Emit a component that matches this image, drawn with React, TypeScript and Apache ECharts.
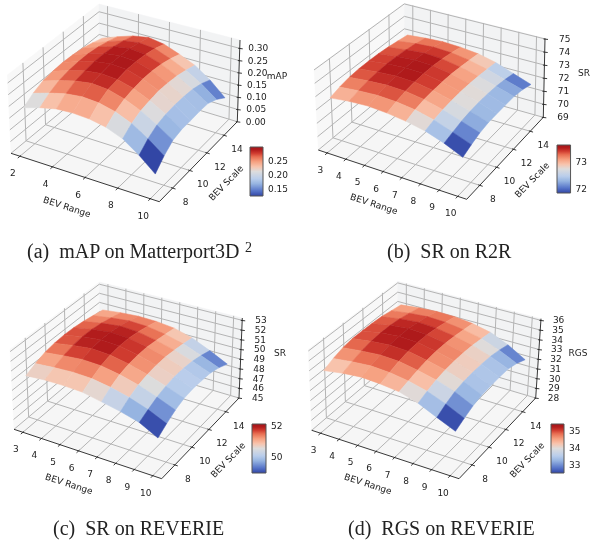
import React, { useEffect, useRef } from "react";
import * as echarts from "echarts";

// ---------- data ----------
const gridXA = [2, 3, 4, 5, 6, 7, 8, 9, 10];
const gridXB = [3, 4, 5, 6, 7, 8, 9, 10];
const gridY = [7, 8, 9, 10, 11, 12, 13, 14, 15];

const rangeTicksA = [2, 4, 6, 8, 10];
const rangeTicksB = [3, 4, 5, 6, 7, 8, 9, 10];
const scaleTicks = [8, 10, 12, 14];

const zTicksA = [0, 0.05, 0.1, 0.15, 0.2, 0.25, 0.3];
const zTicksB = [69, 70, 71, 72, 73, 74, 75];
const zTicksC = [45, 46, 47, 48, 49, 50, 51, 52, 53];
const zTicksD = [28, 29, 30, 31, 32, 33, 34, 35, 36];

const barTicksA = [0.15, 0.2, 0.25];
const barTicksB = [72, 73];
const barTicksC = [50, 52];
const barTicksD = [33, 34, 35];

const captions = ["(a)  mAP on Matterport3D", "(b)  SR on R2R", "(c)  SR on REVERIE", "(d)  RGS on REVERIE"];

const mapA = [
  [0.187, 0.208, 0.223, 0.226, 0.221, 0.207, 0.18, 0.134, 0.079],
  [0.215, 0.236, 0.253, 0.26, 0.254, 0.237, 0.208, 0.166, 0.117],
  [0.234, 0.255, 0.273, 0.282, 0.275, 0.255, 0.226, 0.187, 0.145],
  [0.241, 0.264, 0.282, 0.289, 0.283, 0.264, 0.233, 0.196, 0.154],
  [0.245, 0.268, 0.287, 0.296, 0.29, 0.269, 0.239, 0.199, 0.154],
  [0.243, 0.268, 0.287, 0.296, 0.29, 0.268, 0.236, 0.198, 0.156],
  [0.238, 0.262, 0.283, 0.292, 0.285, 0.262, 0.231, 0.194, 0.154],
  [0.227, 0.252, 0.273, 0.282, 0.275, 0.25, 0.22, 0.182, 0.136],
  [0.213, 0.238, 0.259, 0.27, 0.259, 0.234, 0.206, 0.163, 0.107],
];
const srR2R = [
  [72.81, 72.99, 73.07, 72.98, 72.8, 72.52, 72.06, 71.46],
  [73.06, 73.21, 73.29, 73.23, 73.05, 72.72, 72.24, 71.75],
  [73.23, 73.38, 73.47, 73.42, 73.22, 72.86, 72.42, 71.98],
  [73.31, 73.47, 73.57, 73.51, 73.28, 72.94, 72.53, 72.11],
  [73.32, 73.51, 73.61, 73.56, 73.31, 72.97, 72.57, 72.12],
  [73.31, 73.49, 73.6, 73.55, 73.3, 72.95, 72.56, 72.13],
  [73.24, 73.42, 73.54, 73.47, 73.22, 72.89, 72.51, 72.11],
  [73.13, 73.3, 73.4, 73.33, 73.12, 72.79, 72.37, 71.97],
  [73.01, 73.13, 73.21, 73.14, 72.99, 72.67, 72.18, 71.71],
];
const srReverie = [
  [50.39, 50.55, 50.58, 50.51, 50.13, 49.75, 49.25, 48.29],
  [50.86, 51.03, 51.15, 51.08, 50.77, 50.32, 49.69, 48.86],
  [51.21, 51.46, 51.65, 51.58, 51.24, 50.75, 50.09, 49.36],
  [51.39, 51.73, 51.96, 51.86, 51.48, 50.96, 50.34, 49.67],
  [51.46, 51.84, 52.07, 51.97, 51.59, 51.07, 50.45, 49.75],
  [51.43, 51.81, 52.03, 51.94, 51.56, 51.05, 50.43, 49.7],
  [51.29, 51.64, 51.86, 51.77, 51.4, 50.91, 50.29, 49.59],
  [51.1, 51.38, 51.58, 51.5, 51.19, 50.7, 50.01, 49.25],
  [50.88, 51.1, 51.23, 51.18, 50.97, 50.45, 49.63, 48.74],
];
const rgsReverie = [
  [33.89, 34.21, 34.4, 34.31, 34.11, 33.55, 32.72, 31.93],
  [34.33, 34.59, 34.75, 34.66, 34.38, 33.92, 33.22, 32.37],
  [34.66, 34.89, 35.06, 34.97, 34.63, 34.22, 33.6, 32.75],
  [34.81, 35.08, 35.27, 35.18, 34.82, 34.4, 33.78, 32.97],
  [34.81, 35.16, 35.36, 35.26, 34.91, 34.47, 33.84, 33.03],
  [34.79, 35.14, 35.34, 35.23, 34.89, 34.46, 33.83, 33.04],
  [34.71, 35.02, 35.19, 35.1, 34.79, 34.37, 33.76, 33.0],
  [34.53, 34.79, 34.95, 34.88, 34.62, 34.21, 33.54, 32.69],
  [34.33, 34.53, 34.66, 34.62, 34.41, 34.0, 33.22, 32.19],
];

// ---------- colour scale as it appears in the picture ----------
const coolwarm: [number, number, number, number][] = [
  [0, 50, 70, 165],
  [0.1, 85, 115, 200],
  [0.25, 150, 180, 225],
  [0.35, 185, 205, 235],
  [0.5, 221, 220, 220],
  [0.6, 248, 195, 172],
  [0.7, 246, 160, 128],
  [0.8, 232, 110, 82],
  [0.87, 208, 60, 48],
  [0.94, 178, 28, 28],
  [1, 165, 20, 25],
];
const colorAt = (t: number) => {
  const k = Math.max(0, Math.min(1, t));
  for (let i = 1; i < coolwarm.length; i++) {
    if (k <= coolwarm[i][0]) {
      const a = coolwarm[i - 1];
      const b = coolwarm[i];
      const f = (k - a[0]) / (b[0] - a[0]);
      return `rgb(${[1, 2, 3].map((n) => Math.round(a[n] + (b[n] - a[n]) * f)).join(",")})`;
    }
  }
  return "rgb(165,20,25)";
};

// ---------- panel layout ----------
type Pt = [number, number];
interface Panel {
  xs: number[]; ys: number[]; zs: number[][];
  xTicks: number[]; zTicks: number[]; barTicks: number[];
  zDigits: number; barDigits: number;
  xLim: Pt; yLim: Pt; zLim: Pt; bar: Pt;
  floor: [Pt, Pt, Pt, Pt]; top: [Pt, Pt, Pt, Pt];
  zLabelDx: number; zName: string;
  zNamePos: Pt; xNamePos: Pt; yNamePos: Pt;
  barBox: [number, number, number, number];
  caption: string; captionPos: Pt;
}
const panels: Panel[] = [
  {
    xs: gridXA, ys: gridY, zs: mapA, xTicks: rangeTicksA, zTicks: zTicksA, barTicks: barTicksA,
    zDigits: 2, barDigits: 2, xLim: [1.45, 10.55], yLim: [6.45, 15.55], zLim: [0, 0.334], bar: [0.124, 0.299],
    floor: [[11, 153.3], [159.3, 201.7], [237.3, 121.7], [99.5, 80]],
    top: [[7.3, 75], [160.5, 117], [240, 40], [99, 4]],
    zLabelDx: 8.5, zName: "mAP", zNamePos: [277, 76], xNamePos: [67, 207], yNamePos: [226, 183],
    barBox: [250, 147, 13, 49], caption: captions[0], captionPos: [27, 252],
  },
  {
    xs: gridXB, ys: gridY, zs: srR2R, xTicks: rangeTicksB, zTicks: zTicksB, barTicks: barTicksB,
    zDigits: 0, barDigits: 0, xLim: [2.52, 10.48], yLim: [6.45, 15.55], zLim: [69, 75.05], bar: [71.84, 73.65],
    floor: [[318.3, 150], [466.7, 199.3], [543.3, 117.3], [404.5, 78.5]],
    top: [[314, 69.3], [468, 115], [545, 38.3], [404.3, 3.3]],
    zLabelDx: 14, zName: "SR", zNamePos: [584, 73], xNamePos: [374, 204], yNamePos: [532, 180],
    barBox: [557, 145, 14, 48], caption: captions[1], captionPos: [387, 252],
  },
  {
    xs: gridXB, ys: gridY, zs: srReverie, xTicks: rangeTicksB, zTicks: zTicksC, barTicks: barTicksC,
    zDigits: 0, barDigits: 0, xLim: [2.52, 10.48], yLim: [6.45, 15.55], zLim: [45, 53.24], bar: [48.96, 52.13],
    floor: [[14, 429.3], [161.7, 478.7], [239, 398], [100, 357]],
    top: [[10, 349.3], [163, 396], [242.3, 318], [99.3, 282]],
    zLabelDx: 13, zName: "SR", zNamePos: [280, 353], xNamePos: [69, 484], yNamePos: [228, 460],
    barBox: [252, 424, 14, 49], caption: captions[2], captionPos: [53, 529],
  },
  {
    xs: gridXB, ys: gridY, zs: rgsReverie, xTicks: rangeTicksB, zTicks: zTicksD, barTicks: barTicksD,
    zDigits: 0, barDigits: 0, xLim: [2.52, 10.48], yLim: [6.45, 15.55], zLim: [28, 36.17], bar: [32.5, 35.42],
    floor: [[311.7, 430.3], [459, 478.7], [535.7, 398], [398, 357]],
    top: [[308.3, 349.3], [460.5, 396], [541, 318.7], [397.7, 281.3]],
    zLabelDx: 12, zName: "RGS", zNamePos: [578, 353], xNamePos: [368, 484], yNamePos: [527, 460],
    barBox: [551, 424, 13, 49], caption: captions[3], captionPos: [348, 529],
  },
];

const bilinear = (q: [Pt, Pt, Pt, Pt], u: number, v: number): Pt => {
  const a = (1 - u) * (1 - v), b = u * (1 - v), c = u * v, d = (1 - u) * v;
  return [
    a * q[0][0] + b * q[1][0] + c * q[2][0] + d * q[3][0],
    a * q[0][1] + b * q[1][1] + c * q[2][1] + d * q[3][1],
  ];
};
const uvw = (p: Panel, u: number, v: number, w: number): Pt => {
  const f = bilinear(p.floor, u, v);
  const t = bilinear(p.top, u, v);
  return [f[0] + (t[0] - f[0]) * w, f[1] + (t[1] - f[1]) * w];
};
const uOf = (p: Panel, x: number) => (x - p.xLim[0]) / (p.xLim[1] - p.xLim[0]);
const vOf = (p: Panel, y: number) => (y - p.yLim[0]) / (p.yLim[1] - p.yLim[0]);
const wOf = (p: Panel, z: number) => (z - p.zLim[0]) / (p.zLim[1] - p.zLim[0]);

const FONT = "DejaVu Sans";
const INK = "#222";
const GRID = "#b4b4b4";

const frameSeries = (p: Panel) => ({
  type: "custom",
  silent: true,
  coordinateSystem: "cartesian2d",
  xAxisIndex: 0,
  yAxisIndex: 0,
  data: [[0, 0]],
  z: 1,
  renderItem: (_: any, api: any) => {
    const at = (u: number, v: number, w: number) => api.coord(uvw(p, u, v, w));
    const kids: any[] = [];
    const pane = (pts: number[][], fill: string) =>
      kids.push({ type: "polygon", shape: { points: pts }, style: { fill, stroke: fill, lineWidth: 0.5 } });
    pane([at(0, 0, 0), at(0, 1, 0), at(0, 1, 1), at(0, 0, 1)], "#f8f8f8");
    pane([at(0, 1, 0), at(1, 1, 0), at(1, 1, 1), at(0, 1, 1)], "#f2f3f4");
    pane([at(0, 0, 0), at(1, 0, 0), at(1, 1, 0), at(0, 1, 0)], "#f6f6f6");
    const line = (pts: number[][], stroke: string, lineWidth: number) =>
      kids.push({ type: "polyline", shape: { points: pts }, style: { stroke, lineWidth, fill: "none" } });
    const label = (text: string, x: number, y: number, align = "center", rotation = 0) =>
      kids.push({
        type: "text", x, y, rotation,
        style: { text, fill: INK, fontFamily: FONT, fontSize: 9, align, verticalAlign: "middle" },
      });

    p.xTicks.forEach((t) => {
      const u = uOf(p, t);
      line([at(u, 0, 0), at(u, 1, 0), at(u, 1, 1)], GRID, 1);
    });
    scaleTicks.forEach((t) => {
      const v = vOf(p, t);
      line([at(1, v, 0), at(0, v, 0), at(0, v, 1)], GRID, 1);
    });
    p.zTicks.forEach((t) => {
      const w = wOf(p, t);
      line([at(0, 0, w), at(0, 1, w), at(1, 1, w)], GRID, 1);
    });

    line([at(0, 0, 0), at(1, 0, 0), at(1, 1, 0), at(1, 1, 1)], "#222", 0.9);

    p.xTicks.forEach((t) => {
      const u = uOf(p, t);
      line([at(u, -0.025, 0), at(u, 0.01, 0)], "#222", 0.9);
      const q = at(u, 0, 0);
      label(String(t), q[0] - 7, q[1] + 17);
    });
    scaleTicks.forEach((t) => {
      const v = vOf(p, t);
      line([at(1.02, v, 0), at(0.99, v, 0)], "#222", 0.9);
      const q = at(1, v, 0);
      label(String(t), q[0] + 13, q[1] + 14);
    });
    p.zTicks.forEach((t) => {
      const q = at(1, 1, wOf(p, t));
      line([[q[0] - 1.5, q[1]], [q[0] + 3, q[1] + 0.5]], "#222", 0.9);
      label(t.toFixed(p.zDigits), q[0] + p.zLabelDx, q[1], "left");
    });
    const nz = api.coord(p.zNamePos);
    const nx = api.coord(p.xNamePos);
    const ny = api.coord(p.yNamePos);
    label(p.zName, nz[0], nz[1]);
    label("BEV Range", nx[0], nx[1], "center", (-18 * Math.PI) / 180);
    label("BEV Scale", ny[0], ny[1], "center", (46 * Math.PI) / 180);
    return { type: "group", children: kids };
  },
});

const surfaceSeries = (p: Panel) => {
  const cells: number[][] = [];
  for (let r = p.ys.length - 2; r >= 0; r--) {
    for (let c = 0; c < p.xs.length - 1; c++) cells.push([c, r]);
  }
  return {
    type: "custom",
    silent: true,
    coordinateSystem: "cartesian2d",
    xAxisIndex: 0,
    yAxisIndex: 0,
    data: cells,
    z: 2,
    renderItem: (_: any, api: any) => {
      const c = api.value(0);
      const r = api.value(1);
      const corners = [[c, r], [c + 1, r], [c + 1, r + 1], [c, r + 1]];
      const pts = corners.map(([i, j]) =>
        api.coord(uvw(p, uOf(p, p.xs[i]), vOf(p, p.ys[j]), wOf(p, p.zs[j][i])))
      );
      const mean = corners.reduce((s, [i, j]) => s + p.zs[j][i], 0) / 4;
      const fill = colorAt((mean - p.bar[0]) / (p.bar[1] - p.bar[0]));
      return { type: "polygon", shape: { points: pts }, style: { fill, stroke: fill, lineWidth: 0.5 } };
    },
  };
};

const barSeries = (p: Panel, index: number) => ({
  type: "custom",
  silent: true,
  coordinateSystem: "cartesian2d",
  xAxisIndex: index,
  yAxisIndex: index,
  data: [[0, p.bar[0]]],
  z: 3,
  renderItem: (_: any, api: any) => {
    const a = api.coord([0, p.bar[1]]);
    const b = api.coord([1, p.bar[0]]);
    return {
      type: "rect",
      shape: { x: a[0], y: a[1], width: b[0] - a[0], height: b[1] - a[1] },
      style: {
        stroke: "#555",
        lineWidth: 1,
        fill: new echarts.graphic.LinearGradient(0, 1, 0, 0,
          coolwarm.map((s) => ({ offset: s[0], color: `rgb(${s[1]},${s[2]},${s[3]})` }))),
      },
    };
  },
});

const buildOption = () => {
  const grids: any[] = [{ left: 0, top: 0, width: 590, height: 544 }];
  const xAxes: any[] = [{ type: "value", gridIndex: 0, min: 0, max: 590, show: false }];
  const yAxes: any[] = [{ type: "value", gridIndex: 0, min: 0, max: 544, inverse: true, show: false }];
  const series: any[] = [];
  const graphic: any[] = [];
  panels.forEach((p, i) => {
    const g = i + 1;
    grids.push({ left: p.barBox[0], top: p.barBox[1], width: p.barBox[2], height: p.barBox[3] });
    xAxes.push({ type: "value", gridIndex: g, min: 0, max: 1, show: false });
    yAxes.push({
      type: "value",
      gridIndex: g,
      position: "right",
      min: p.bar[0],
      max: p.bar[1],
      axisLine: { show: false },
      splitLine: { show: false },
      axisTick: { show: true, length: 3, customValues: p.barTicks, lineStyle: { color: "#222", width: 0.9 } },
      axisLabel: {
        show: true,
        customValues: p.barTicks,
        margin: 5,
        fontFamily: FONT,
        fontSize: 9,
        color: INK,
        formatter: (v: number) => v.toFixed(p.barDigits),
      },
    });
    series.push(frameSeries(p), surfaceSeries(p), barSeries(p, g));
    graphic.push({
      type: "text",
      left: p.captionPos[0],
      top: p.captionPos[1] - 11,
      style: { text: p.caption, fontFamily: "Liberation Serif", fontSize: 20, fill: "#222" },
    });
  });
  graphic.push({
    type: "text",
    left: 245,
    top: 240,
    style: { text: "2", fontFamily: "Liberation Serif", fontSize: 14, fill: "#222" },
  });
  return { animation: false, backgroundColor: "#fff", grid: grids, xAxis: xAxes, yAxis: yAxes, series, graphic };
};

export default function App() {
  const ref = useRef<HTMLDivElement>(null);
  useEffect(() => {
    const chart = echarts.init(ref.current!, undefined, { renderer: "svg" });
    chart.setOption(buildOption() as any);
    return () => chart.dispose();
  }, []);
  return (
    <div
      ref={ref}
      style={{ position: "absolute", left: 0, top: 0, width: 590, height: 544, filter: "blur(0.4px)" }}
    />
  );
}
